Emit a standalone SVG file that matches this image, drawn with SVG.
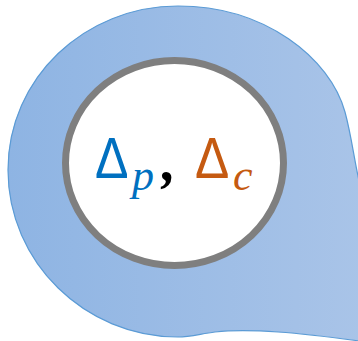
<svg xmlns="http://www.w3.org/2000/svg" width="358" height="341" viewBox="0 0 358 341">
<defs>
<linearGradient id="bg" x1="0" y1="0" x2="1" y2="0">
<stop offset="0" stop-color="#8EB4E3"/>
<stop offset="1" stop-color="#A9C4E8"/>
</linearGradient>
<style>
.m{font-family:"Liberation Sans",sans-serif;font-size:57px}
.s{font-family:"Liberation Serif",serif;font-style:italic;font-size:44px}
.k{font-family:"Liberation Serif",serif;font-style:italic;font-weight:bold;font-size:56px;fill:#000000}
.b{fill:#0070C0}
.o{fill:#C55A11}
</style>
</defs>
<g id="blob">
<path d="M178,6 C265,6 330,58 345,112 C352,138 354,160 360,185 L362,345 L360,341 C300,333 250,328 215,332 C200,334 190,337 178,337 C85,337 8,262 8,170 C8,78 85,6 178,6 Z" fill="url(#bg)" stroke="#5B9BD5" stroke-width="1.2"/>
</g>
<g id="circle">
<ellipse cx="174.5" cy="163" rx="109" ry="102.5" fill="#FFFFFF" stroke="#7F7F7F" stroke-width="7"/>
</g>
<g id="label">
<text class="m b" transform="translate(95,178) scale(0.88,1)">Δ</text>
<text class="s b" x="132" y="190">p</text>
<text class="k" x="162" y="180">,</text>
<text class="m o" transform="translate(195,178) scale(0.9,1)">Δ</text>
<text class="s o" x="233" y="190">c</text>
</g>
</svg>
